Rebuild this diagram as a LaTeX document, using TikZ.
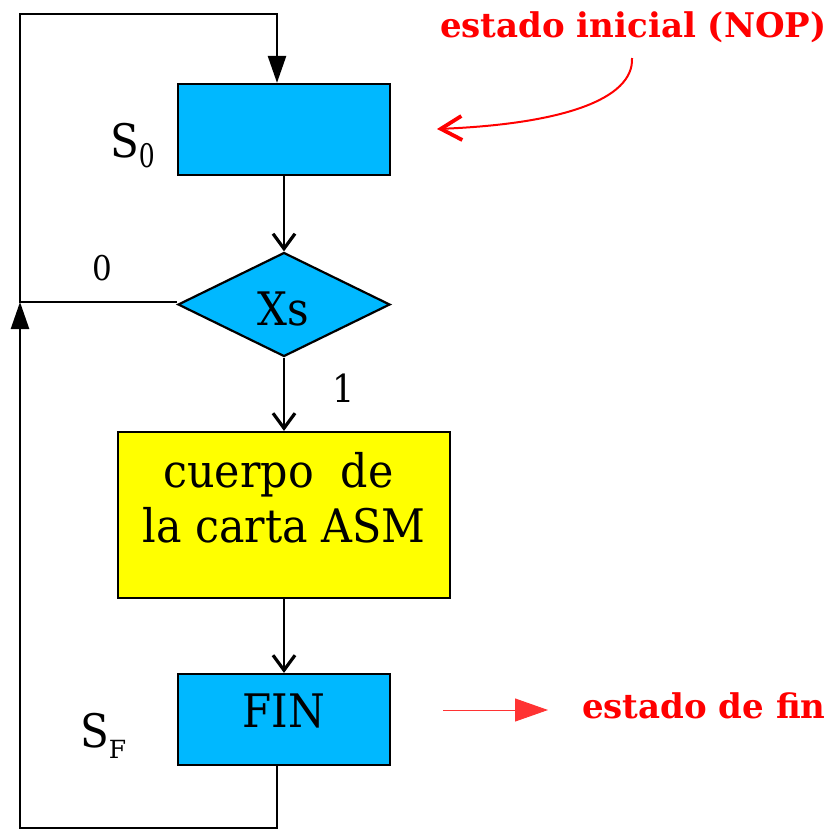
\documentclass[tikz,border=0pt]{standalone}
\usepackage{fontspec}
\setmainfont{DejaVu Serif}
\usetikzlibrary{shapes.geometric,arrows.meta}
\definecolor{boxcyan}{RGB}{0,184,255}
\definecolor{boxyellow}{RGB}{255,255,0}
\definecolor{notered}{RGB}{255,0,0}
\definecolor{arrowred}{RGB}{255,51,51}
\newcommand{\tallbig}[1]{\scalebox{1}[1.1]{\fontsize{42}{50}\selectfont #1}}
\newcommand{\tallbody}[1]{\scalebox{1}[1.08]{\fontsize{42.8}{50}\selectfont #1}}
\newcommand{\tallsub}[2]{\scalebox{1}[#1]{\fontsize{25}{30}\selectfont #2}}
\tikzset{
  statebox/.style={draw=black, line width=2.2pt, fill=boxcyan, minimum width=212pt, minimum height=91pt, inner sep=0pt},
  bodybox/.style={draw=black, line width=2.2pt, fill=boxyellow, minimum width=332pt, minimum height=166pt, inner sep=0pt},
  decision/.style={diamond, draw=black, line width=2.2pt, fill=boxcyan, minimum width=212pt, minimum height=104pt, inner sep=0pt},
  flow/.style={line width=2pt, -{Straight Barb[length=15pt,width=22pt,line width=3.2pt]}},
  looparrow/.style={line width=2.5pt, line join=miter, -{Triangle[length=27pt,width=18pt]}},
  btext/.style={inner sep=0pt, anchor=base},
  blabel/.style={inner sep=0pt, anchor=base west},
  note/.style={text=notered, font=\fontsize{34}{40}\selectfont\bfseries, inner sep=0pt, anchor=base west},
}
\begin{document}
\begin{tikzpicture}[x=1pt,y=-1pt]
\useasboundingbox (0,0) rectangle (828,830);
% boxes
\node[statebox] (s0) at (284,129.5) {};
\node[decision] (xs) at (284,304.5) {};
\node[bodybox] (body) at (284,515) {};
\node[statebox] (fin) at (284,719.5) {};
% texts
\node[btext] (xstext) at (283.5,325) {\tallbig{Xs}};
\node[btext] (bodyline1) at (278.5,487) {\tallbody{cuerpo\ \ de}};
\node[btext] (bodyline2) at (284,542) {\tallbody{la carta ASM}};
\node[btext] (fintext) at (284,727) {\tallbig{FIN}};
\node[blabel] (s0lab) at (110,157) {\tallbig{S}\raisebox{-10pt}{\tallsub{1.3}{0}}};
\node[blabel] (sflab) at (80,747) {\tallbig{S}\raisebox{-11pt}{\tallsub{1.0}{F}}};
\node[btext] (zero) at (102,280) {\scalebox{1}[1.1]{\fontsize{31}{36}\selectfont 0}};
\node[btext] (one) at (343.5,402) {\scalebox{1}[1.1]{\fontsize{35}{40}\selectfont 1}};
\node[note] (ini) at (440,37) {estado inicial (NOP)};
\node[note] (finnote) at (582,718) {estado de fin};
% coordinates
\coordinate (topL) at (20,14);
\coordinate (topR) at (277,14);
\coordinate (join) at (20,302);
\coordinate (botL) at (20,828);
\coordinate (botR) at (277,828);
\coordinate (curveStart) at (632,58);
\coordinate (curveEnd) at (437,129);
\coordinate (finArrowStart) at (443,710);
\coordinate (finArrowEnd) at (548,710);
% connectors
\draw[flow] (s0.south) -- (xs.north);
\draw[flow] (xs.south) -- (body.north);
\draw[flow] (body.south) -- (fin.north);
\draw[looparrow] (xs.west |- join) -- (join) -- (topL) -- (topR) -- (topR |- s0.north);
\draw[looparrow] (botR |- fin.south) -- (botR) -- (botL) -- (join);
% red annotations
\draw[notered, line width=2pt, -{Straight Barb[length=21pt,width=24pt,line width=3.8pt]}] (curveStart) .. controls (634,100) and (560,124) .. (curveEnd);
\draw[arrowred, line width=1pt, -{Triangle[length=33pt,width=23pt]}] (finArrowStart) -- (finArrowEnd);
\end{tikzpicture}
\end{document}
